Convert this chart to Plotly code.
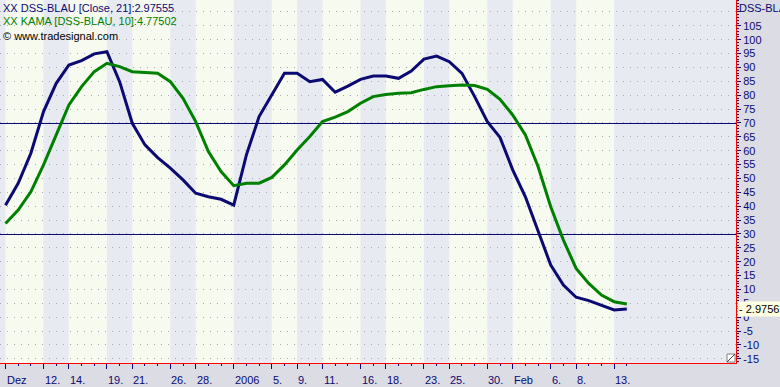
import plotly.graph_objects as go

# ---- data -------------------------------------------------------------
DATES = ["2005-12-07", "2005-12-08", "2005-12-09", "2005-12-12", "2005-12-13", "2005-12-14",
         "2005-12-15", "2005-12-16", "2005-12-19", "2005-12-20", "2005-12-21", "2005-12-22",
         "2005-12-23", "2005-12-26", "2005-12-27", "2005-12-28", "2005-12-29", "2005-12-30",
         "2006-01-02", "2006-01-03", "2006-01-04", "2006-01-05", "2006-01-06", "2006-01-09",
         "2006-01-10", "2006-01-11", "2006-01-12", "2006-01-13", "2006-01-16", "2006-01-17",
         "2006-01-18", "2006-01-19", "2006-01-20", "2006-01-23", "2006-01-24", "2006-01-25",
         "2006-01-26", "2006-01-27", "2006-01-30", "2006-01-31", "2006-02-01", "2006-02-02",
         "2006-02-03", "2006-02-06", "2006-02-07", "2006-02-08", "2006-02-09", "2006-02-10",
         "2006-02-13", "2006-02-14"]

DSS = [40.4, 48.3, 59.1, 74.1, 84.3, 90.9, 92.5, 94.9, 95.7, 84.9,
       69.9, 62.1, 57.5, 53.7, 49.5, 44.7, 43.4, 42.5, 40.4, 58.5,
       72.3, 80.1, 87.9, 87.9, 84.9, 85.7, 81.1, 83.3, 85.7, 86.9,
       86.9, 86.1, 88.7, 93.0, 94.1, 92.1, 87.9, 79.5, 70.5, 64.8,
       53.1, 43.4, 31.4, 18.8, 11.6, 7.2, 6.0, 4.4, 2.6, 2.97555]

KAMA = [33.8, 38.6, 45.2, 54.9, 65.7, 76.5, 83.1, 88.5, 91.5, 90.3,
        88.5, 88.1, 87.9, 84.9, 78.9, 70.5, 59.7, 52.5, 47.4, 48.3,
        48.3, 50.4, 54.9, 60.3, 65.1, 70.5, 72.1, 74.1, 77.1, 79.5,
        80.3, 80.7, 80.9, 82.1, 83.1, 83.4, 83.7, 83.5, 82.1, 78.5,
        72.9, 65.7, 54.3, 39.8, 27.8, 17.6, 12.2, 8.0, 5.6, 4.77502]

X_LABEL_DATES = ["2005-12-07", "2005-12-12", "2005-12-14", "2005-12-19", "2005-12-21",
                 "2005-12-26", "2005-12-28", "2006-01-02", "2006-01-05", "2006-01-09",
                 "2006-01-11", "2006-01-16", "2006-01-18", "2006-01-23", "2006-01-25",
                 "2006-01-30", "2006-02-01", "2006-02-06", "2006-02-08", "2006-02-13"]
X_LABELS = ["Dez", "12.", "14.", "19.", "21.", "26.", "28.", "2006", "5.", "9.",
            "11.", "16.", "18.", "23.", "25.", "30.", "Feb", "6.", "8.", "13."]

Y_TICKS = list(range(-15, 115, 5))
Y_TICKTEXT = [str(v) if v <= 105 else "" for v in Y_TICKS]
LEVELS = [70, 30]
LAST_VALUE_TEXT = "2.9756"

# ---- styling -----------------------------------------------------------
NAVY = "#0a0a72"
GREEN = "#008000"
LIGHT = "#f7faef"
DARK = "#e7eaf1"
PAPER = "#dcdce5"
FONT = "Liberation Sans"

xs = list(range(len(DATES)))
lab_idx = [DATES.index(d) for d in X_LABEL_DATES]

fig = go.Figure()
fig.add_trace(go.Scatter(x=xs, y=DSS, mode="lines", line=dict(color=NAVY, width=3),
                         hoverinfo="skip", showlegend=False))
fig.add_trace(go.Scatter(x=xs, y=KAMA, mode="lines", line=dict(color=GREEN, width=3),
                         hoverinfo="skip", showlegend=False))

shapes = []
# alternating bands between labelled ticks
for k in range(0, len(lab_idx) - 1, 2):
    shapes.append(dict(type="rect", xref="x", yref="paper", x0=lab_idx[k], x1=lab_idx[k + 1],
                       y0=0, y1=1, fillcolor=LIGHT, line=dict(width=0), layer="below"))
# horizontal level lines (half-pixel offset keeps them crisp)
for lv in LEVELS:
    shapes.append(dict(type="line", xref="paper", yref="y", x0=0, x1=1,
                       ysizemode="pixel", yanchor=lv, y0=-0.5, y1=-0.5,
                       line=dict(color=NAVY, width=1), layer="between"))
# small corner box at bottom-right of the plot
shapes.append(dict(type="rect", xref="paper", yref="paper",
                   xsizemode="pixel", xanchor=1, x0=-9, x1=-1,
                   ysizemode="pixel", yanchor=0, y0=1, y1=9,
                   fillcolor="#ffffff", line=dict(color="#808080", width=1), layer="above"))
shapes.append(dict(type="line", xref="paper", yref="paper",
                   xsizemode="pixel", xanchor=1, x0=-9, x1=-1,
                   ysizemode="pixel", yanchor=0, y0=1, y1=9,
                   line=dict(color="#404040", width=1), layer="above"))

annotations = []
for i, t in zip(lab_idx, X_LABELS):
    annotations.append(dict(x=i, xref="x", y=0, yref="paper", yanchor="top", xanchor="left",
                            yshift=-9, xshift=-1, text=t, showarrow=False,
                            font=dict(family=FONT, size=11, color=NAVY)))

H = 363.0
def py(p):
    return 1 - p / H

annotations += [
    dict(x=0, xref="paper", y=py(8), yref="paper", xanchor="left", yanchor="middle", xshift=1,
         text="XX DSS-BLAU [Close, 21]:2.97555", showarrow=False,
         font=dict(family=FONT, size=11, color=NAVY)),
    dict(x=0, xref="paper", y=py(21), yref="paper", xanchor="left", yanchor="middle", xshift=1,
         text="XX KAMA [DSS-BLAU, 10]:4.77502", showarrow=False,
         font=dict(family=FONT, size=11, color=GREEN)),
    dict(x=0, xref="paper", y=py(36), yref="paper", xanchor="left", yanchor="middle", xshift=1,
         text="© www.tradesignal.com", showarrow=False,
         font=dict(family=FONT, size=11, color="#000000")),
    dict(x=1, xref="paper", y=py(8), yref="paper", xanchor="left", yanchor="middle", xshift=1,
         text="DSS-BLAU", showarrow=False,
         font=dict(family=FONT, size=11, color=NAVY)),
    dict(x=1, xref="paper", y=DSS[-1], yref="y", xanchor="left", yanchor="middle", xshift=1,
         text="- " + LAST_VALUE_TEXT, showarrow=False, bgcolor="#ffffe1", borderpad=1,
         font=dict(family=FONT, size=11, color="#000000")),
]

fig.update_layout(
    template="none",
    width=780, height=387,
    margin=dict(l=0, r=44, t=0, b=24, pad=0),
    paper_bgcolor=PAPER, plot_bgcolor=DARK,
    shapes=shapes, annotations=annotations,
    xaxis=dict(range=[-5.5 / 12.68, (736 - 5.5) / 12.68], showgrid=False, zeroline=False,
               automargin=False,
               showline=True, linecolor="#ff0000", linewidth=1,
               tickmode="array", tickvals=lab_idx, showticklabels=False,
               ticks="outside", ticklen=5, tickcolor=NAVY, tickwidth=1,
               minor=dict(tickmode="array", tickvals=xs, ticks="outside", ticklen=2,
                          tickcolor=NAVY, tickwidth=1, showgrid=False)),
    yaxis=dict(side="right", range=[-16.49, 114.32], zeroline=False, automargin=False,
               showline=True, linecolor="#ff0000", linewidth=1,
               tickmode="array", tickvals=Y_TICKS, ticktext=Y_TICKTEXT,
               ticks="outside", ticklen=4, tickcolor=NAVY, tickwidth=1,
               tickfont=dict(family=FONT, size=11, color=NAVY),
               showgrid=True, gridcolor="#a8a8b0", griddash="1px,6px", gridwidth=1,
               minor=dict(dtick=1, tick0=0, ticks="outside", ticklen=2,
                          tickcolor=NAVY, tickwidth=1, showgrid=False)),
)

fig.write_html("out.html", config={"displayModeBar": False},
               post_script="document.body.style.margin='0';document.body.style.overflow='hidden';")
